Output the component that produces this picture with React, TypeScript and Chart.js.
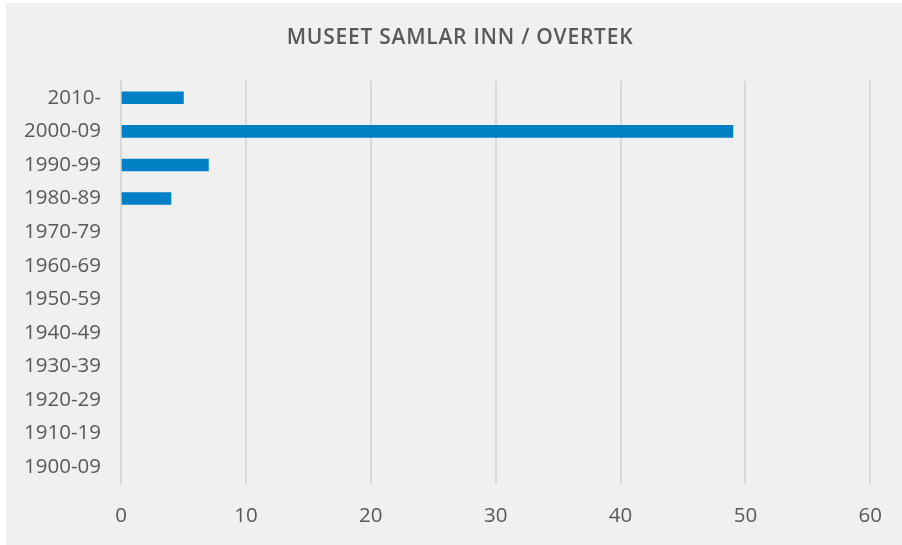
import React, { useEffect, useRef } from "react";
import { Chart, registerables } from "chart.js";

Chart.register(...registerables);

const TITLE = "MUSEET SAMLAR INN / OVERTEK";
const categories = [
  "2010-",
  "2000-09",
  "1990-99",
  "1980-89",
  "1970-79",
  "1960-69",
  "1950-59",
  "1940-49",
  "1930-39",
  "1920-29",
  "1910-19",
  "1900-09",
];
const values = [5, 49, 7, 4, 0, 0, 0, 0, 0, 0, 0, 0];
const xMin = 0;
const xMax = 60;
const xStep = 10;

const FONT = "'Open Sans', sans-serif";
const TEXT = "#595959";
const GRID = "#d9d9d9";

const titlePlugin = {
  id: "fixedTitle",
  afterDraw(chart: any) {
    const ctx = chart.ctx as CanvasRenderingContext2D;
    ctx.save();
    ctx.fillStyle = TEXT;
    ctx.font = `600 21px ${FONT}`;
    (ctx as any).letterSpacing = "0.75px";
    ctx.textAlign = "center";
    ctx.textBaseline = "alphabetic";
    ctx.fillText(TITLE, 454, 41);
    ctx.restore();
  },
};

export default function App() {
  const ref = useRef<HTMLCanvasElement | null>(null);
  useEffect(() => {
    if (!ref.current) return;
    const chart = new Chart(ref.current, {
      type: "bar",
      data: {
        labels: categories,
        datasets: [
          {
            data: values.map((v) => (v === 0 ? null : v)),
            backgroundColor: "#0080C4",
            borderWidth: 0,
            barThickness: 12,
          },
        ],
      },
      plugins: [titlePlugin],
      options: {
        indexAxis: "y",
        animation: false,
        responsive: false,
        maintainAspectRatio: false,
        layout: { padding: { left: 0, right: 30, top: 78, bottom: 0 } },
        plugins: {
          legend: { display: false },
          tooltip: { enabled: false },
          title: { display: false },
        },
        scales: {
          x: {
            min: xMin,
            max: xMax,
            ticks: {
              stepSize: xStep,
              color: TEXT,
              font: { family: FONT, size: 20.5 },
              padding: 20,
            },
            grid: { color: GRID, lineWidth: 2, drawTicks: false },
            border: { display: false },
            afterFit: (s: any) => {
              s.height = 61;
            },
          },
          y: {
            ticks: {
              color: TEXT,
              font: { family: FONT, size: 20.5 },
              padding: 20,
            },
            grid: { display: false, drawTicks: false },
            border: { display: true, color: GRID, width: 2 },
            afterFit: (s: any) => {
              s.width = 115;
            },
          },
        },
      },
    });
    return () => chart.destroy();
  }, []);
  return (
    <div
      style={{
        position: "fixed",
        left: 0,
        top: 0,
        width: 902,
        height: 545,
        background: "#ffffff",
      }}
    >
      <div
        style={{
          position: "absolute",
          left: 6,
          top: 3,
          width: 896,
          height: 542,
          background: "#f0f0f0",
        }}
      >
        <canvas ref={ref} width={896} height={542} style={{ display: "block" }} />
      </div>
    </div>
  );
}
